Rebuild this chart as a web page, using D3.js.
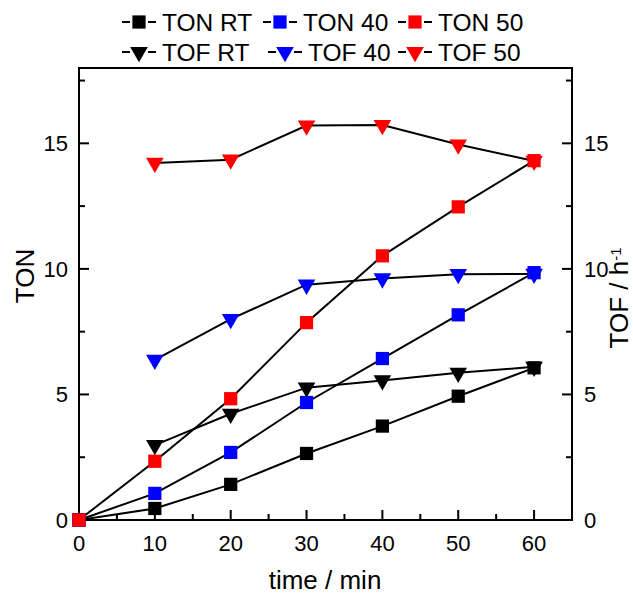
<!DOCTYPE html>
<html>
<head>
<meta charset="utf-8">
<script src="https://cdn.jsdelivr.net/npm/d3@7"></script>
<style>
  body { margin: 0; background: #fff; }
  text { font-family: Arial, "Liberation Sans", sans-serif; fill: #000; }
</style>
</head>
<body>
<svg id="chart" width="633" height="595"></svg>
<script>
// data
const times = [0, 10, 20, 30, 40, 50, 60];
const tonRT = [0, 0.46, 1.42, 2.65, 3.74, 4.93, 6.06];
const ton40 = [0, 1.06, 2.69, 4.68, 6.43, 8.17, 9.85];
const ton50 = [0, 2.34, 4.83, 7.86, 10.52, 12.47, 14.31];
const tofTimes = [10, 20, 30, 40, 50, 60];
const tofRT = [2.98, 4.23, 5.27, 5.56, 5.86, 6.1];
const tof40 = [6.38, 8.0, 9.37, 9.62, 9.79, 9.8];
const tof50 = [14.22, 14.35, 15.71, 15.73, 14.95, 14.3];
const yTicks = [0, 5, 10, 15];
const xTicks = [0, 10, 20, 30, 40, 50, 60];

const series = [
  { name: "TON RT", x: times, y: tonRT, color: "#000", shape: "square" },
  { name: "TON 40", x: times, y: ton40, color: "#0000ff", shape: "square" },
  { name: "TON 50", x: times, y: ton50, color: "#ff0000", shape: "square" },
  { name: "TOF RT", x: tofTimes, y: tofRT, color: "#000", shape: "tri" },
  { name: "TOF 40", x: tofTimes, y: tof40, color: "#0000ff", shape: "tri" },
  { name: "TOF 50", x: tofTimes, y: tof50, color: "#ff0000", shape: "tri" }
];

const svg = d3.select("#chart");
const pLeft = 79, pRight = 572, pTop = 68, pBottom = 520;

const x = d3.scaleLinear().domain([0, 65]).range([pLeft, pRight]);
const y = d3.scaleLinear().domain([0, 18]).range([pBottom, pTop]);
const y2 = d3.scaleLinear().domain([0, 18]).range([pBottom, pTop]);

// frame
svg.append("rect")
  .attr("x", pLeft).attr("y", pTop)
  .attr("width", pRight - pLeft).attr("height", pBottom - pTop)
  .attr("fill", "none").attr("stroke", "#000").attr("stroke-width", 2);

// inward ticks
const tickG = svg.append("g").attr("stroke", "#000").attr("stroke-width", 2);
d3.range(0, 66, 5).forEach(v => {
  const len = v % 10 === 0 ? 10 : 6;
  tickG.append("line").attr("x1", x(v)).attr("x2", x(v)).attr("y1", pBottom).attr("y2", pBottom - len);
});
d3.range(0, 18, 2.5).forEach(v => {
  const len = v % 5 === 0 ? 10 : 6;
  tickG.append("line").attr("x1", pLeft).attr("x2", pLeft + len).attr("y1", y(v)).attr("y2", y(v));
  tickG.append("line").attr("x1", pRight).attr("x2", pRight - len).attr("y1", y2(v)).attr("y2", y2(v));
});

// tick labels
svg.selectAll(".xl").data(xTicks).enter().append("text")
  .attr("x", d => x(d)).attr("y", 551)
  .attr("text-anchor", "middle").attr("font-size", 22).text(d => d);
svg.selectAll(".yl").data(yTicks).enter().append("text")
  .attr("x", 68).attr("y", d => y(d) + 8)
  .attr("text-anchor", "end").attr("font-size", 22).text(d => d);
svg.selectAll(".y2l").data(yTicks).enter().append("text")
  .attr("x", 584).attr("y", d => y2(d) + 8)
  .attr("text-anchor", "start").attr("font-size", 22).text(d => d);

// axis titles
svg.append("text").attr("x", 325).attr("y", 589)
  .attr("text-anchor", "middle").attr("font-size", 26).text("time / min");
svg.append("text").attr("transform", "translate(34,276) rotate(-90)")
  .attr("text-anchor", "middle").attr("font-size", 26).text("TON");
const t2 = svg.append("text").attr("transform", "translate(628,298) rotate(-90)")
  .attr("text-anchor", "middle").attr("font-size", 26);
t2.append("tspan").text("TOF / h");
t2.append("tspan").attr("dy", -7).attr("font-size", 15).text("-1");

const sym = s => s === "square"
  ? d3.symbol().type(d3.symbolSquare).size(175)
  : d3.symbol().type(d3.symbolTriangle).size(135);

const line = d3.line().x(d => x(d[0])).y(d => y(d[1]));

// lines
series.forEach(s => {
  const pts = s.x.map((t, i) => [t, s.y[i]]);
  svg.append("path").datum(pts).attr("d", line)
    .attr("fill", "none").attr("stroke", "#000").attr("stroke-width", 2);
});
// markers
series.forEach(s => {
  const pts = s.x.map((t, i) => [t, s.y[i]]);
  svg.append("g").selectAll("path").data(pts).enter().append("path")
    .attr("d", sym(s.shape)())
    .attr("transform", d => `translate(${x(d[0])},${y(d[1])})` + (s.shape === "tri" ? " rotate(180)" : ""))
    .attr("fill", s.color);
});

// legend
const legendPos = [[139, 22], [280, 22], [415, 22], [139, 52], [285, 52], [415, 52]];
series.forEach((s, i) => {
  const [lx, ly] = legendPos[i];
  const g = svg.append("g");
  g.append("line").attr("x1", lx - 17).attr("x2", lx - 9).attr("y1", ly).attr("y2", ly)
    .attr("stroke", "#000").attr("stroke-width", 2);
  g.append("line").attr("x1", lx + 9).attr("x2", lx + 17).attr("y1", ly).attr("y2", ly)
    .attr("stroke", "#000").attr("stroke-width", 2);
  g.append("path").attr("d", sym(s.shape)())
    .attr("transform", `translate(${lx},${ly})` + (s.shape === "tri" ? " rotate(180)" : ""))
    .attr("fill", s.color);
  g.append("text").attr("x", lx + 23).attr("y", ly + 9)
    .attr("font-size", 24.5).text(s.name);
});
</script>
</body>
</html>
